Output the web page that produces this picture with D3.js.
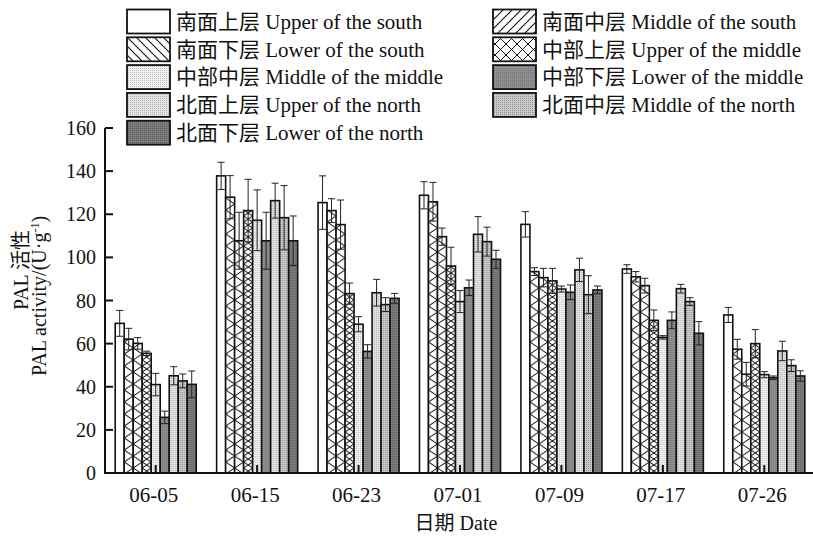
<!DOCTYPE html>
<html>
<head>
<meta charset="utf-8">
<script src="https://cdn.jsdelivr.net/npm/d3@7"></script>
<style>
  html, body { margin: 0; padding: 0; background: #fff; }
  svg { display: block; }
  text { font-family: "Liberation Serif", "Times New Roman", "Noto Sans CJK SC", serif; fill: #111; }
</style>
</head>
<body>
<svg id="chart" width="813" height="537"></svg>
<script>
// Sampling dates
const dates = ["06-05", "06-15", "06-23", "07-01", "07-09", "07-17", "07-26"];

// Canopy positions (Chinese / English legend names)
const seriesZh = ["南面上层", "南面中层", "南面下层", "中部上层", "中部中层", "中部下层", "北面上层", "北面中层", "北面下层"];
const seriesEn = ["Upper of the south", "Middle of the south", "Lower of the south",
                  "Upper of the middle", "Middle of the middle", "Lower of the middle",
                  "Upper of the north", "Middle of the north", "Lower of the north"];

// PAL activity (U·g⁻¹) per position, one value per date
const upperSouth   = [69.4, 137.8, 125.4, 128.8, 115.3, 94.6, 73.3];
const middleSouth  = [62.1, 127.9, 121.7, 125.8, 93.4, 91.0, 57.4];
const lowerSouth   = [60.1, 107.7, 115.2, 109.6, 90.6, 86.9, 45.8];
const upperMiddle  = [55.5, 121.7, 83.2, 96.0, 89.1, 70.8, 60.0];
const middleMiddle = [41.0, 117.2, 69.0, 79.5, 85.3, 62.9, 45.6];
const lowerMiddle  = [25.8, 107.7, 56.4, 85.9, 83.8, 70.8, 44.2];
const upperNorth   = [45.1, 126.3, 83.6, 110.7, 94.2, 85.5, 56.6];
const middleNorth  = [42.7, 118.4, 78.1, 107.3, 82.7, 79.5, 49.8];
const lowerNorth   = [41.1, 107.7, 81.0, 99.1, 84.9, 64.8, 45.0];

// Standard deviations
const upperSouthErr   = [6.0, 6.3, 12.4, 6.3, 5.9, 2.0, 3.5];
const middleSouthErr  = [5.0, 10.0, 5.5, 9.0, 1.8, 2.4, 4.6];
const lowerSouthErr   = [2.7, 13.2, 11.4, 4.0, 4.3, 3.4, 5.5];
const upperMiddleErr  = [1.0, 14.5, 4.9, 8.7, 5.8, 4.8, 6.5];
const middleMiddleErr = [5.2, 14.1, 3.5, 5.1, 1.4, 0.8, 1.4];
const lowerMiddleErr  = [2.9, 13.2, 3.1, 3.6, 3.4, 3.9, 0.8];
const upperNorthErr   = [4.2, 8.1, 6.2, 8.2, 5.4, 2.0, 4.5];
const middleNorthErr  = [3.2, 14.9, 3.2, 6.7, 8.8, 1.8, 2.7];
const lowerNorthErr   = [6.2, 11.5, 2.3, 4.2, 1.8, 5.4, 2.4];

const yTicks = [0, 20, 40, 60, 80, 100, 120, 140, 160];

const values = [upperSouth, middleSouth, lowerSouth, upperMiddle, middleMiddle, lowerMiddle, upperNorth, middleNorth, lowerNorth];
const errors = [upperSouthErr, middleSouthErr, lowerSouthErr, upperMiddleErr, middleMiddleErr, lowerMiddleErr, upperNorthErr, middleNorthErr, lowerNorthErr];

const svg = d3.select("#chart");
const defs = svg.append("defs");

const plot = { left: 105, right: 815, top: 128, bottom: 473 };

const x0 = d3.scaleBand().domain(dates).range([plot.left, plot.right]);
const groupPad = 10.2;
const x1 = d3.scaleBand().domain(d3.range(9)).range([groupPad, x0.bandwidth() - groupPad]);
const bw = x1.bandwidth();
const y = d3.scaleLinear().domain([0, 160]).range([plot.bottom, plot.top]);

// ---- fills ----
function dotPattern(id, bg, dot, step) {
  const p = defs.append("pattern").attr("id", id).attr("patternUnits", "userSpaceOnUse")
    .attr("width", step).attr("height", step);
  p.append("rect").attr("width", step).attr("height", step).attr("fill", bg);
  p.append("rect").attr("width", 1).attr("height", 1).attr("fill", dot);
  return `url(#${id})`;
}
function linePattern(id, w, h, d, sw) {
  const p = defs.append("pattern").attr("id", id).attr("patternUnits", "userSpaceOnUse")
    .attr("width", w).attr("height", h);
  p.append("rect").attr("width", w).attr("height", h).attr("fill", "#fff");
  p.append("path").attr("d", d).attr("fill", "none").attr("stroke", "#111").attr("stroke-width", sw);
  return `url(#${id})`;
}

const ch = 12; // chevron height inside bars
const barFill = [
  "#fff",
  linePattern("chevA", bw, ch, `M${bw},0 L0,${ch / 2} L${bw},${ch}`, 1.0),
  linePattern("chevB", bw, ch, `M0,0 L${bw},${ch / 2} L0,${ch}`, 1.0),
  linePattern("chevX", bw, ch, `M0,0 L${bw},${ch / 2} L0,${ch} M${bw},0 L0,${ch / 2} L${bw},${ch}`, 1.0),
  dotPattern("dotMM", "#f1f1f1", "#bdbdbd", 2),
  dotPattern("dotLM", "#8e8e8e", "#777", 2),
  dotPattern("dotUN", "#e2e2e2", "#b5b5b5", 2),
  dotPattern("dotMN", "#cbcbcb", "#8f8f8f", 2),
  dotPattern("dotLN", "#7c7c7c", "#5f5f5f", 2)
];

const legFill = [
  "#fff",
  linePattern("legMS", 9, 9, "M-2,11 L11,-2 M-2,2 L2,-2 M7,11 L11,7", 1.1),
  linePattern("legLS", 9, 9, "M-2,-2 L11,11 M7,-2 L11,2 M-2,7 L2,11", 1.1),
  linePattern("legUM", 11, 11, "M0,0 L11,11 M11,0 L0,11", 1.0),
  barFill[4], barFill[5], barFill[6], barFill[7], barFill[8]
];

// ---- bars ----
const groups = svg.append("g").selectAll("g.date")
  .data(dates).join("g")
  .attr("class", "date")
  .attr("transform", d => `translate(${x0(d)},0)`);

groups.each(function (date, di) {
  const g = d3.select(this);
  for (let s = 0; s < 9; s++) {
    const v = values[s][di], e = errors[s][di];
    const bg = g.append("g").attr("transform", `translate(${x1(s)},0)`);
    bg.append("rect")
      .attr("x", 0).attr("y", y(v))
      .attr("width", bw).attr("height", y(0) - y(v))
      .attr("fill", barFill[s])
      .attr("stroke", "#111").attr("stroke-width", 1.6);
    const cx = bw / 2, cap = 3.5;
    bg.append("path")
      .attr("d", `M${cx},${y(v + e)} V${y(v - e)} M${cx - cap},${y(v + e)} H${cx + cap} M${cx - cap},${y(v - e)} H${cx + cap}`)
      .attr("fill", "none").attr("stroke", "#222").attr("stroke-width", 1);
  }
});

// ---- axes ----
const axisG = svg.append("g");
axisG.append("path")
  .attr("d", `M${plot.left},${plot.top} V${plot.bottom} H${813}`)
  .attr("fill", "none").attr("stroke", "#111").attr("stroke-width", 2);

axisG.selectAll("line.yt").data(yTicks).join("line")
  .attr("class", "yt")
  .attr("x1", plot.left).attr("x2", plot.left + 8)
  .attr("y1", d => y(d)).attr("y2", d => y(d))
  .attr("stroke", "#111").attr("stroke-width", 2);

axisG.selectAll("text.yl").data(yTicks).join("text")
  .attr("class", "yl")
  .attr("x", 96).attr("y", d => y(d))
  .attr("dy", "0.35em")
  .attr("text-anchor", "end")
  .attr("font-size", 20)
  .text(d => d);

axisG.selectAll("line.xt").data(dates).join("line")
  .attr("class", "xt")
  .attr("x1", d => x0(d) + x0.bandwidth() / 2).attr("x2", d => x0(d) + x0.bandwidth() / 2)
  .attr("y1", plot.bottom).attr("y2", plot.bottom - 8)
  .attr("stroke", "#111").attr("stroke-width", 2);

axisG.selectAll("text.xl").data(dates).join("text")
  .attr("class", "xl")
  .attr("x", d => x0(d) + x0.bandwidth() / 2 - 2)
  .attr("y", 502)
  .attr("text-anchor", "middle")
  .attr("font-size", 21)
  .text(d => d);

// axis titles
svg.append("text")
  .attr("x", 456).attr("y", 530)
  .attr("text-anchor", "middle").attr("font-size", 20)
  .text("日期 Date");

svg.append("text")
  .attr("transform", "translate(28,270) rotate(-90)")
  .attr("text-anchor", "middle").attr("font-size", 20)
  .text("PAL 活性");

const yt2 = svg.append("text")
  .attr("transform", "translate(46,296) rotate(-90)")
  .attr("text-anchor", "middle").attr("font-size", 20);
yt2.append("tspan").text("PAL activity/(U·g");
yt2.append("tspan").attr("font-size", 12).attr("dy", -7).text("-1");
yt2.append("tspan").attr("dy", 7).text(")");

// ---- legend ----
const legendPos = [
  { col: 0, row: 0 }, { col: 1, row: 0 }, { col: 0, row: 1 }, { col: 1, row: 1 },
  { col: 0, row: 2 }, { col: 1, row: 2 }, { col: 0, row: 3 }, { col: 1, row: 3 }, { col: 0, row: 4 }
];
const colX = [127, 493];
const leg = svg.append("g");
seriesEn.forEach((en, i) => {
  const p = legendPos[i];
  const bx = colX[p.col], by = 9.5 + p.row * 27.8;
  leg.append("rect")
    .attr("x", bx).attr("y", by).attr("width", 43).attr("height", 24)
    .attr("fill", legFill[i]).attr("stroke", "#111").attr("stroke-width", 1.8);
  leg.append("text")
    .attr("x", bx + 49).attr("y", by + 12)
    .attr("dy", "0.35em")
    .attr("font-size", 21)
    .text(seriesZh[i] + " " + en);
});
</script>
</body>
</html>
